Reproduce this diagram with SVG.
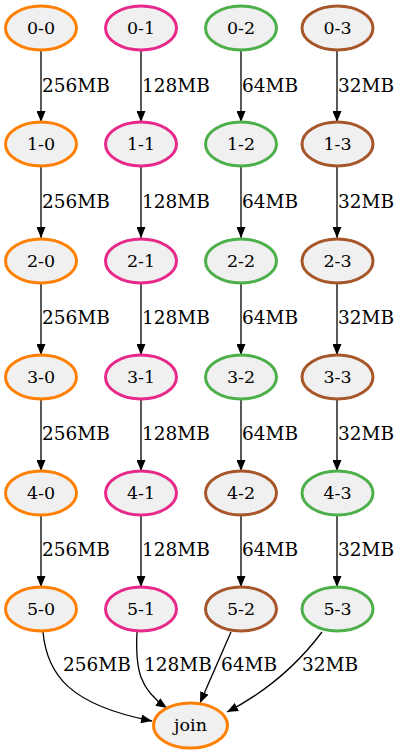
<svg xmlns="http://www.w3.org/2000/svg" width="400" height="755" viewBox="0 0 400 755">
<defs>
<style>
.n ellipse{fill:#f0f0f0;stroke-width:3}
.n text{font-family:"DejaVu Serif","Liberation Serif",serif;font-size:17.5px;text-anchor:middle;fill:#000}
.c0 ellipse{stroke:#ff7f00}
.c1 ellipse{stroke:#e7298a}
.c2 ellipse{stroke:#4daf4a}
.c3 ellipse{stroke:#a65628}
#edges path{fill:none;stroke:#000;stroke-width:1.3}
#edges text{font-family:"DejaVu Serif","Liberation Serif",serif;font-size:18.5px;fill:#000}
</style>
<marker id="ah" viewBox="0 0 11 9" refX="11" refY="4.5" markerWidth="11" markerHeight="9" markerUnits="userSpaceOnUse" orient="auto">
<path d="M0,0 L11,4.5 L0,9 z" fill="#000"/>
</marker>
</defs>
<rect width="400" height="755" fill="#fff"/>
<g id="edges">
<path d="M41,50 V122" marker-end="url(#ah)"/>
<path d="M41,166 V238" marker-end="url(#ah)"/>
<path d="M41,283 V355" marker-end="url(#ah)"/>
<path d="M41,399 V471" marker-end="url(#ah)"/>
<path d="M41,515 V587" marker-end="url(#ah)"/>
<path d="M141,50 V122" marker-end="url(#ah)"/>
<path d="M141,166 V238" marker-end="url(#ah)"/>
<path d="M141,283 V355" marker-end="url(#ah)"/>
<path d="M141,399 V471" marker-end="url(#ah)"/>
<path d="M141,515 V587" marker-end="url(#ah)"/>
<path d="M241,50 V122" marker-end="url(#ah)"/>
<path d="M241,166 V238" marker-end="url(#ah)"/>
<path d="M241,283 V355" marker-end="url(#ah)"/>
<path d="M241,399 V471" marker-end="url(#ah)"/>
<path d="M241,515 V587" marker-end="url(#ah)"/>
<path d="M337,50 V122" marker-end="url(#ah)"/>
<path d="M337,166 V238" marker-end="url(#ah)"/>
<path d="M337,283 V355" marker-end="url(#ah)"/>
<path d="M337,399 V471" marker-end="url(#ah)"/>
<path d="M337,515 V587" marker-end="url(#ah)"/>
<path d="M43,632 C47,675 70,705 152,721" marker-end="url(#ah)"/>
<path d="M137,632 C135,670 140,690 167,708" marker-end="url(#ah)"/>
<path d="M231,632 L200,703" marker-end="url(#ah)"/>
<path d="M322,632 C295,668 260,695 227,712" marker-end="url(#ah)"/>
<text x="42" y="92">256MB</text>
<text x="42" y="208">256MB</text>
<text x="42" y="324">256MB</text>
<text x="42" y="440">256MB</text>
<text x="42" y="556">256MB</text>
<text x="142" y="92">128MB</text>
<text x="142" y="208">128MB</text>
<text x="142" y="324">128MB</text>
<text x="142" y="440">128MB</text>
<text x="142" y="556">128MB</text>
<text x="242" y="92">64MB</text>
<text x="242" y="208">64MB</text>
<text x="242" y="324">64MB</text>
<text x="242" y="440">64MB</text>
<text x="242" y="556">64MB</text>
<text x="338" y="92">32MB</text>
<text x="338" y="208">32MB</text>
<text x="338" y="324">32MB</text>
<text x="338" y="440">32MB</text>
<text x="338" y="556">32MB</text>
<text x="63" y="671">256MB</text>
<text x="144" y="671">128MB</text>
<text x="221" y="671">64MB</text>
<text x="302" y="671">32MB</text>
</g>
<g id="n0-0" class="n c0"><ellipse cx="41" cy="28" rx="35.5" ry="22"/><text x="41" y="34">0-0</text></g>
<g id="n0-1" class="n c1"><ellipse cx="141" cy="28" rx="35.5" ry="22"/><text x="141" y="34">0-1</text></g>
<g id="n0-2" class="n c2"><ellipse cx="241" cy="28" rx="35.5" ry="22"/><text x="241" y="34">0-2</text></g>
<g id="n0-3" class="n c3"><ellipse cx="337.5" cy="28" rx="35.5" ry="22"/><text x="337.5" y="34">0-3</text></g>
<g id="n1-0" class="n c0"><ellipse cx="41" cy="144" rx="35.5" ry="22"/><text x="41" y="150">1-0</text></g>
<g id="n1-1" class="n c1"><ellipse cx="141" cy="144" rx="35.5" ry="22"/><text x="141" y="150">1-1</text></g>
<g id="n1-2" class="n c2"><ellipse cx="241" cy="144" rx="35.5" ry="22"/><text x="241" y="150">1-2</text></g>
<g id="n1-3" class="n c3"><ellipse cx="337.5" cy="144" rx="35.5" ry="22"/><text x="337.5" y="150">1-3</text></g>
<g id="n2-0" class="n c0"><ellipse cx="41" cy="261" rx="35.5" ry="22"/><text x="41" y="267">2-0</text></g>
<g id="n2-1" class="n c1"><ellipse cx="141" cy="261" rx="35.5" ry="22"/><text x="141" y="267">2-1</text></g>
<g id="n2-2" class="n c2"><ellipse cx="241" cy="261" rx="35.5" ry="22"/><text x="241" y="267">2-2</text></g>
<g id="n2-3" class="n c3"><ellipse cx="337.5" cy="261" rx="35.5" ry="22"/><text x="337.5" y="267">2-3</text></g>
<g id="n3-0" class="n c0"><ellipse cx="41" cy="377" rx="35.5" ry="22"/><text x="41" y="383">3-0</text></g>
<g id="n3-1" class="n c1"><ellipse cx="141" cy="377" rx="35.5" ry="22"/><text x="141" y="383">3-1</text></g>
<g id="n3-2" class="n c2"><ellipse cx="241" cy="377" rx="35.5" ry="22"/><text x="241" y="383">3-2</text></g>
<g id="n3-3" class="n c3"><ellipse cx="337.5" cy="377" rx="35.5" ry="22"/><text x="337.5" y="383">3-3</text></g>
<g id="n4-0" class="n c0"><ellipse cx="41" cy="493" rx="35.5" ry="22"/><text x="41" y="499">4-0</text></g>
<g id="n4-1" class="n c1"><ellipse cx="141" cy="493" rx="35.5" ry="22"/><text x="141" y="499">4-1</text></g>
<g id="n4-2" class="n c3"><ellipse cx="241" cy="493" rx="35.5" ry="22"/><text x="241" y="499">4-2</text></g>
<g id="n4-3" class="n c2"><ellipse cx="337.5" cy="493" rx="35.5" ry="22"/><text x="337.5" y="499">4-3</text></g>
<g id="n5-0" class="n c0"><ellipse cx="41" cy="609" rx="35.5" ry="22"/><text x="41" y="615">5-0</text></g>
<g id="n5-1" class="n c1"><ellipse cx="141" cy="609" rx="35.5" ry="22"/><text x="141" y="615">5-1</text></g>
<g id="n5-2" class="n c3"><ellipse cx="241" cy="609" rx="35.5" ry="22"/><text x="241" y="615">5-2</text></g>
<g id="n5-3" class="n c2"><ellipse cx="337.5" cy="609" rx="35.5" ry="22"/><text x="337.5" y="615">5-3</text></g>
<g id="njoin" class="n c0"><ellipse cx="190.5" cy="725.5" rx="37" ry="22.5"/><text x="190.5" y="731">join</text></g>
</svg>
